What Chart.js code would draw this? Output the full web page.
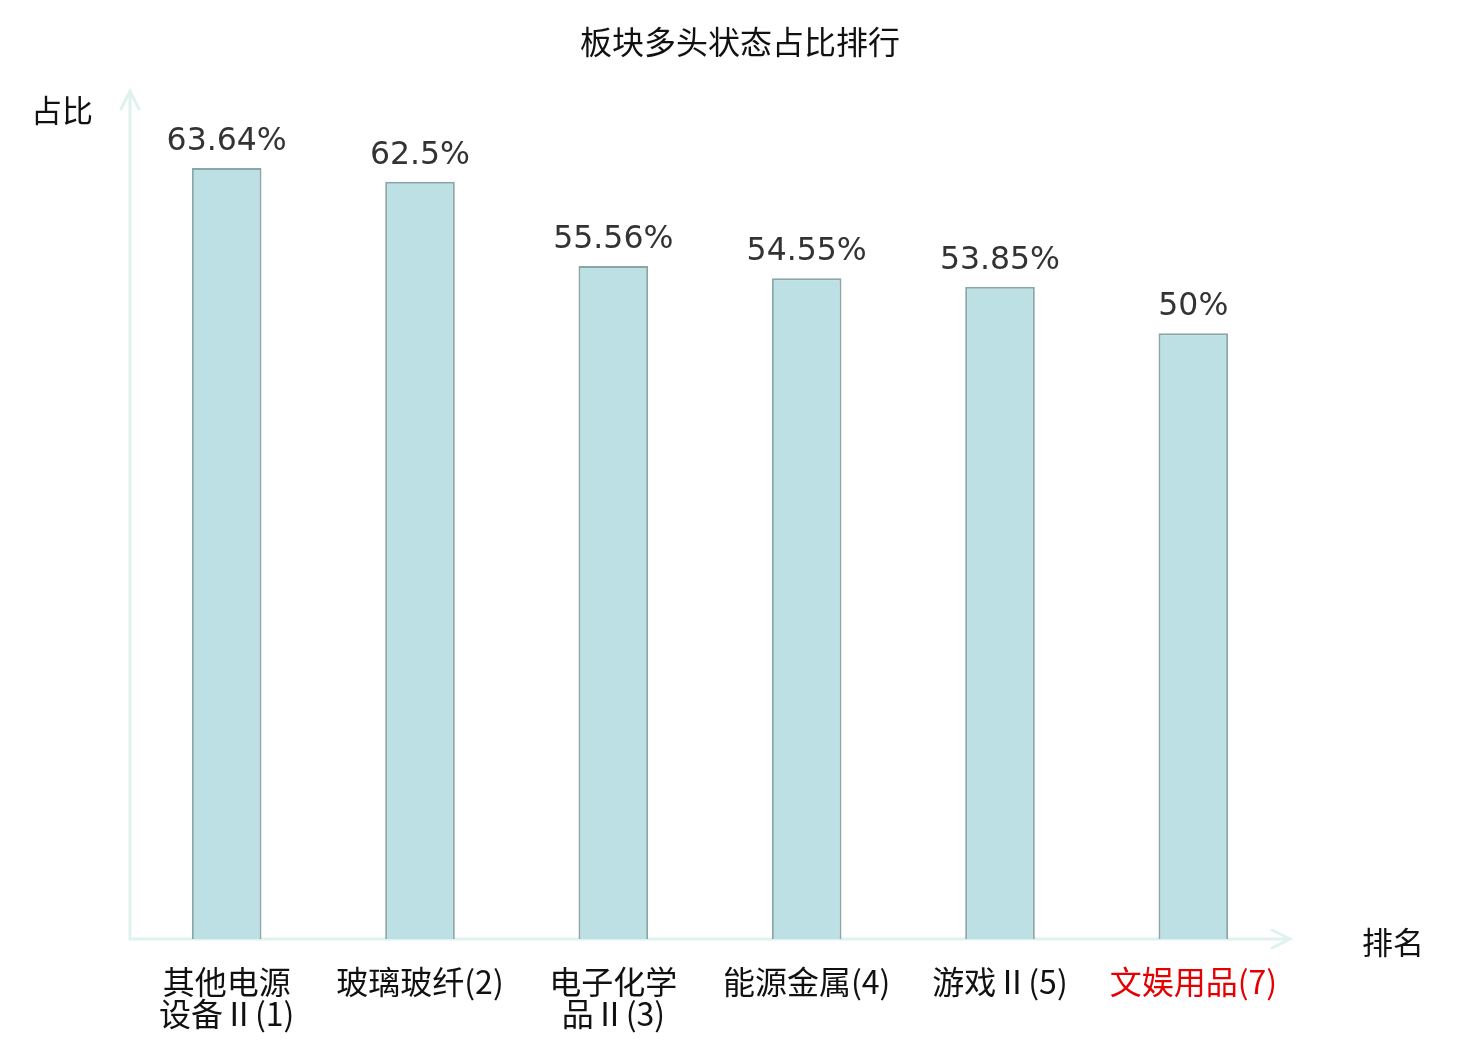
<!DOCTYPE html>
<html lang="zh">
<head>
    <meta charset="UTF-8">
    <title>板块多头状态占比排行</title>
    <script src="https://cdn.jsdelivr.net/npm/chart.js"></script>
    <style>
        body { margin: 0; background: #fff; }
        #wrap { width: 1480px; height: 1040px; }
    </style>
</head>
<body>
    <div id="wrap"><canvas id="rankChart"></canvas></div>

    <script>
        // 板块名称（多行标签）和占比
        const categories = [
            ['其他电源', '设备Ⅱ(1)'],
            '玻璃玻纤(2)',
            ['电子化学', '品Ⅱ(3)'],
            '能源金属(4)',
            '游戏Ⅱ(5)',
            '文娱用品(7)'
        ];
        const ratios = [63.64, 62.5, 55.56, 54.55, 53.85, 50];
        const highlightIndex = [5]; // 红色显示的板块

        const cjkFont = '"Noto Sans CJK SC", "Noto Sans", sans-serif';
        const axisColor = '#dff2ef';

        // 坐标轴箭头 + 轴名称 + 数值标签
        const decorPlugin = {
            id: 'decor',
            beforeDatasetsDraw(chart) {
                const { ctx, chartArea: a } = chart;
                ctx.save();
                ctx.strokeStyle = axisColor;
                ctx.lineWidth = 3;
                ctx.lineCap = 'round';
                ctx.beginPath();
                ctx.moveTo(a.left, a.top);
                ctx.lineTo(a.left, a.bottom);
                ctx.lineTo(a.right, a.bottom);
                // x arrow
                ctx.moveTo(a.right - 18, a.bottom - 9);
                ctx.lineTo(a.right, a.bottom);
                ctx.lineTo(a.right - 18, a.bottom + 9);
                // y arrow
                ctx.moveTo(a.left - 9, a.top + 18);
                ctx.lineTo(a.left, a.top);
                ctx.lineTo(a.left + 9, a.top + 18);
                ctx.stroke();
                ctx.restore();
            },
            afterDraw(chart) {
                const { ctx, chartArea: a } = chart;
                ctx.save();
                ctx.fillStyle = '#111';
                ctx.font = '31px ' + cjkFont;
                ctx.textBaseline = 'middle';
                ctx.textAlign = 'right';
                ctx.fillText('占比', a.left - 37, a.top + 19);
                ctx.textAlign = 'left';
                ctx.fillText('排名', a.right + 72, a.bottom + 3);

                // 数值
                ctx.fillStyle = '#333';
                ctx.font = '31.5px "DejaVu Sans", sans-serif';
                ctx.textAlign = 'center';
                ctx.textBaseline = 'alphabetic';
                chart.getDatasetMeta(0).data.forEach((bar, i) => {
                    ctx.fillText(ratios[i] + '%', bar.x, bar.y - 18);
                });
                ctx.restore();
            }
        };

        const ctx = document.getElementById('rankChart').getContext('2d');
        new Chart(ctx, {
            type: 'bar',
            data: {
                labels: categories,
                datasets: [{
                    label: '占比',
                    data: ratios,
                    backgroundColor: '#bce0e3',
                    borderColor: '#8aa6a7',
                    borderWidth: 2,
                    barPercentage: 0.36,
                    categoryPercentage: 1
                }]
            },
            options: {
                responsive: true,
                maintainAspectRatio: false,
                animation: false,
                layout: { padding: 0 },
                scales: {
                    x: {
                        grid: { display: false },
                        border: { display: false },
                        afterFit: s => { s.height = 101; },
                        ticks: {
                            padding: 19,
                            maxRotation: 0,
                            autoSkip: false,
                            font: { family: cjkFont, size: 32, lineHeight: 1.0 },
                            color: c => highlightIndex.includes(c.index) ? '#e60000' : '#111'
                        }
                    },
                    y: {
                        min: 0,
                        max: 70,
                        grid: { display: false },
                        border: { display: false },
                        ticks: { display: false },
                        afterFit: s => { s.width = 130; }
                    },
                    yRight: {
                        position: 'right',
                        grid: { display: false },
                        border: { display: false },
                        ticks: { display: false },
                        afterFit: s => { s.width = 190; }
                    }
                },
                plugins: {
                    legend: { display: false },
                    tooltip: { enabled: false },
                    title: {
                        display: true,
                        text: '板块多头状态占比排行',
                        color: '#111',
                        font: { family: cjkFont, size: 32, weight: 'normal', lineHeight: 1.2 },
                        padding: { top: 23, bottom: 29.6 }
                    }
                }
            },
            plugins: [decorPlugin]
        });
    </script>
</body>
</html>
